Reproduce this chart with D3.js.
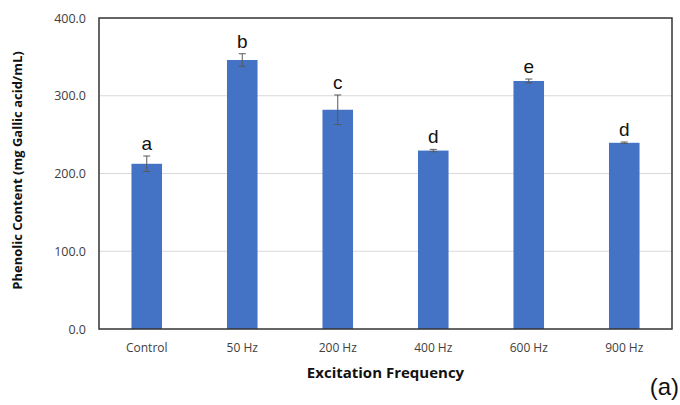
<!DOCTYPE html>
<html>
<head>
<meta charset="utf-8">
<script src="https://cdn.jsdelivr.net/npm/d3@7"></script>
<style>
  html, body { margin: 0; padding: 0; background: #ffffff; }
  svg { display: block; }
</style>
</head>
<body>
<svg id="chart" width="680" height="405"></svg>
<script>
// Mean phenolic content per excitation frequency, with standard deviation and significance groups
const categories = ["Control", "50 Hz", "200 Hz", "400 Hz", "600 Hz", "900 Hz"];
const means = [212.5, 346.0, 282.0, 229.5, 319.0, 239.5];
const errors = [10.0, 8.0, 19.0, 1.5, 2.5, 1.0];
const groups = ["a", "b", "c", "d", "e", "d"];
const yTicks = [0, 100, 200, 300, 400];

const svg = d3.select("#chart");
const margin = { left: 99, right: 8, top: 18, bottom: 76 };
const W = 680, H = 405;
const innerW = W - margin.left - margin.right;
const innerH = H - margin.top - margin.bottom;

const x = d3.scaleBand().domain(categories).range([0, innerW]).paddingInner(0.68).paddingOuter(0.34);
const y = d3.scaleLinear().domain([0, 400]).range([innerH, 0]);

const g = svg.append("g").attr("transform", `translate(${margin.left},${margin.top})`);

// horizontal gridlines
g.append("g")
  .selectAll("line")
  .data(yTicks.filter(t => t > 0 && t < 400))
  .join("line")
  .attr("x1", 0).attr("x2", innerW)
  .attr("y1", d => y(d)).attr("y2", d => y(d))
  .attr("stroke", "#d9d9d9").attr("stroke-width", 1);

// bars
g.append("g")
  .selectAll("rect")
  .data(categories)
  .join("rect")
  .attr("x", d => x(d))
  .attr("width", x.bandwidth())
  .attr("y", (d, i) => y(means[i]))
  .attr("height", (d, i) => innerH - y(means[i]))
  .attr("fill", "#4472c4");

// error bars
const eb = g.append("g").attr("stroke", "#595959").attr("stroke-width", 1);
categories.forEach((c, i) => {
  const cx = x(c) + x.bandwidth() / 2;
  const top = y(means[i] + errors[i]);
  const bot = y(means[i] - errors[i]);
  eb.append("line").attr("x1", cx).attr("x2", cx).attr("y1", top).attr("y2", bot);
  eb.append("line").attr("x1", cx - 3.5).attr("x2", cx + 3.5).attr("y1", top).attr("y2", top);
  eb.append("line").attr("x1", cx - 3.5).attr("x2", cx + 3.5).attr("y1", bot).attr("y2", bot);
});

// significance letters
g.append("g")
  .selectAll("text")
  .data(categories)
  .join("text")
  .attr("x", d => x(d) + x.bandwidth() / 2)
  .attr("y", (d, i) => y(means[i] + errors[i]) - 6)
  .attr("text-anchor", "middle")
  .attr("font-family", "Liberation Sans, Arial, sans-serif")
  .attr("font-size", 19)
  .attr("fill", "#111")
  .text((d, i) => groups[i]);

// y axis tick labels
const yAxis = d3.axisLeft(y).tickValues(yTicks).tickFormat(d3.format(".1f")).tickSize(0).tickPadding(13);
const ya = g.append("g").call(yAxis);
ya.select(".domain").remove();
ya.selectAll("text")
  .attr("font-family", "Open Sans, sans-serif")
  .attr("font-size", 12.5)
  .attr("fill", "#404040");

// x axis tick labels
const xAxis = d3.axisBottom(x).tickSize(0).tickPadding(14);
const xa = g.append("g").attr("transform", `translate(0,${innerH})`).call(xAxis);
xa.select(".domain").remove();
xa.selectAll("text")
  .attr("font-family", "Open Sans, sans-serif")
  .attr("font-size", 12)
  .attr("fill", "#404040");

// plot frame
g.append("rect")
  .attr("x", 0).attr("y", 0)
  .attr("width", innerW).attr("height", innerH)
  .attr("fill", "none").attr("stroke", "#333").attr("stroke-width", 1.5);

// axis titles
svg.append("text")
  .attr("transform", `translate(22,${margin.top + innerH / 2 - 3}) rotate(-90)`)
  .attr("text-anchor", "middle")
  .attr("font-family", "Open Sans, sans-serif")
  .attr("font-weight", "bold")
  .attr("font-size", 13)
  .attr("fill", "#111")
  .text("Phenolic Content (mg Gallic acid/mL)");

svg.append("text")
  .attr("x", margin.left + innerW / 2)
  .attr("y", 378)
  .attr("text-anchor", "middle")
  .attr("font-family", "Open Sans, sans-serif")
  .attr("font-weight", "bold")
  .attr("font-size", 15)
  .attr("fill", "#111")
  .text("Excitation Frequency");

// panel label
svg.append("text")
  .attr("x", 679)
  .attr("y", 395)
  .attr("text-anchor", "end")
  .attr("font-family", "Liberation Sans, Arial, sans-serif")
  .attr("font-size", 24)
  .attr("fill", "#111")
  .text("(a)");
</script>
</body>
</html>
